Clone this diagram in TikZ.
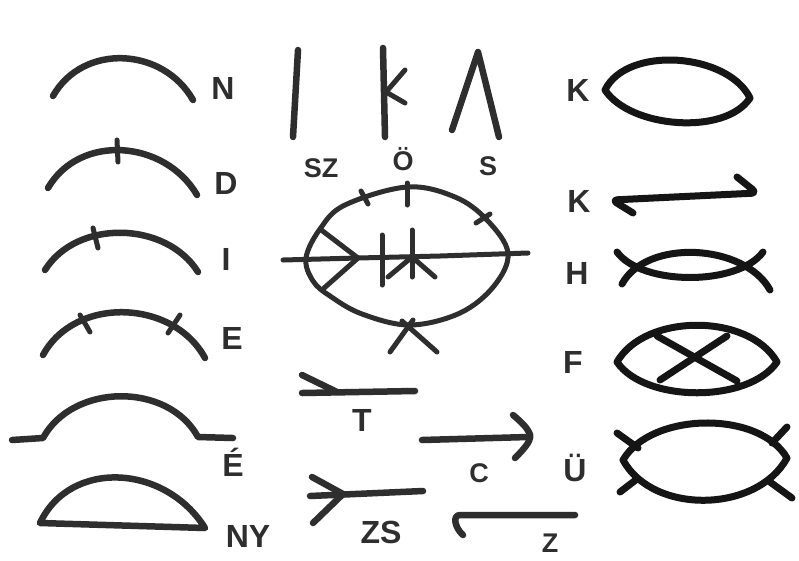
\documentclass[tikz,border=0pt]{standalone}
\usepackage{fontspec}
\setmainfont{Liberation Sans}
\definecolor{inkc}{HTML}{2E2E2E}
\definecolor{inkk}{HTML}{151515}
\begin{document}
\begin{tikzpicture}[x=1pt,y=-1pt, line cap=round, line join=round,
  ink/.style={draw=inkc, line width=6.5pt},
  inkr/.style={draw=inkk, line width=7pt},
  inkm/.style={draw=inkc, line width=5pt},
  lbl/.style={text=inkc, font=\fontsize{32}{32}\selectfont\bfseries, inner sep=0pt},
  lbls/.style={text=inkc, font=\fontsize{27}{27}\selectfont\bfseries, inner sep=0pt}]
\useasboundingbox (0,0) rectangle (799,560);
\fill[white] (0,0) rectangle (799,560);

% ---------- left column ----------
% N
\draw[ink] (53,96) .. controls +(30,-53) and +(-30,-53) .. (193,100);
\node[lbl] (lN) at (223,88) {N};
% D
\draw[ink] (48,188) .. controls +(32,-55) and +(-32,-55) .. (197,195);
\draw[ink, line width=5pt] (117,140) -- (118,162);
\node[lbl] (lD) at (226,183) {D};
% I
\draw[ink] (45,270) .. controls +(32,-51) and +(-32,-51) .. (198,272);
\draw[ink, line width=5pt] (93,228) -- (98,248);
\node[lbl] (lI) at (226,259) {I};
% E
\draw[ink] (43,355) .. controls +(32,-59) and +(-32,-59) .. (205,358);
\draw[ink, line width=5pt] (80,315) -- (90,332);
\draw[ink, line width=5pt] (180,315) -- (168,333);
\node[lbl] (lE) at (232,338) {E};
% E acute
\draw[ink] (12,440) -- (43,438) .. controls +(30,-55) and +(-30,-55) .. (198,437) -- (233,438);
\node[lbl] (lEa) at (233,462) {É};
% NY
\draw[ink] (40,523) .. controls +(30,-64) and +(-40,-64) .. (205,528) -- cycle;
\node[lbl] (lNY) at (248,536) {NY};

% ---------- middle column ----------
% SZ
\draw[ink] (298,50) -- (293,137);
\node[lbls] (lSZ) at (321,168) {SZ};
% O umlaut
\draw[ink] (383,48) -- (385,137);
\draw[ink, line width=5pt] (405,70) -- (386,92) -- (405,103);
\node[lbls] (lOe) at (403,159) {Ö};
% S
\draw[ink] (452,130) -- (478,52) -- (499,137);
\node[lbls] (lS) at (488,166) {S};

% big ligature
\draw[inkm] plot[smooth cycle, tension=0.6] coordinates {
  (306,258) (320,229) (345,205) (407,187) (455,197) (487,220) (508,253)
  (494,286) (460,313) (410,325) (362,314) (330,296) (313,281)};
\draw[inkm] (283,260) -- (358,258) -- (440,256) -- (528,253);
\draw[inkm] (320,229) -- (358,258) -- (323,289);
\draw[inkm] (382,235) -- (382,285);
\draw[inkm] (412,230) -- (412,277);
\draw[inkm] (388,277) -- (412,257) -- (435,277);
\draw[inkm] (361,191) -- (368,204);
\draw[inkm] (407,183) -- (407,205);
\draw[inkm] (476,223) -- (490,214);
\draw[inkm] (390,352) -- (413,320);
\draw[inkm] (437,352) -- (402,321);

% T
\draw[ink] (302,393) -- (415,391);
\draw[ink] (302,375) -- (337,392);
\node[lbl] (lT) at (362,420) {T};
% C
\draw[ink] (422,440) -- (528,437);
\draw[ink] plot[smooth, tension=0.7] coordinates {(513,415) (527,429) (529,441) (515,458)};
\node[lbls] (lC) at (479,473) {C};
% ZS
\draw[ink] (310,496) -- (423,491);
\draw[ink] (312,477) -- (343,494) -- (313,523);
\node[lbl] (lZS) at (381,532) {ZS};
% Z
\draw[ink] (575,515) -- (460,515) .. controls (452,515) and (455,528) .. (463,535);
\node[lbls] (lZ) at (550,543) {Z};

% ---------- right column ----------
% K (lens)
\draw[inkr] (605,90) .. controls +(22,-45) and +(-22,-45) .. (750,98)
            .. controls +(-25,38) and +(25,38) .. (605,90) -- cycle;
\node[lbl] (lK1) at (578,90) {K};
% K (hooked line)
\draw[inkr, rounded corners=6pt] (633,213) -- (612,200) -- (757,193) -- (737,177);
\node[lbl] (lK2) at (579,201) {K};
% H
\draw[inkr] (622,284) .. controls +(25,-46) and +(-25,-46) .. (770,290);
\draw[inkr] (617,252) .. controls +(25,34) and +(-25,34) .. (763,252);
\node[lbl] (lH) at (577,273) {H};
% F
\draw[inkr] (617,362) .. controls +(28,-49) and +(-28,-49) .. (777,362)
            .. controls +(-28,41) and +(28,41) .. (617,362) -- cycle;
\draw[inkr] (657,336) -- (737,381);
\draw[inkr] (727,336) -- (660,380);
\node[lbl] (lF) at (573,362) {F};
% U umlaut
\draw[inkr] (623,460) .. controls +(28,-48) and +(-28,-48) .. (787,458)
            .. controls +(-30,55) and +(30,55) .. (623,460) -- cycle;
\draw[inkr] (617,433) -- (638,448);
\draw[inkr] (620,492) -- (637,479);
\draw[inkr] (787,427) -- (772,443);
\draw[inkr] (792,498) -- (770,482);
\node[lbl] (lUe) at (575,468) {Ü};
\end{tikzpicture}
\end{document}
